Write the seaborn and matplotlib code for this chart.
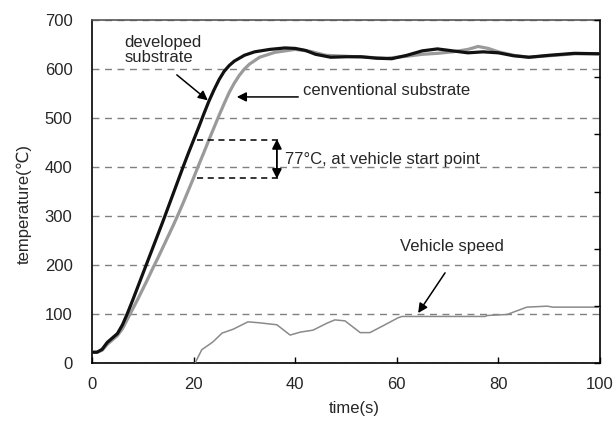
import matplotlib
matplotlib.use("Agg")
import matplotlib.pyplot as plt
import seaborn as sns
import pandas as pd
import numpy as np

# ---- data ----
dev_time = [0, 1, 2, 3, 4, 5, 6, 7, 8, 9, 10, 11, 12, 13, 14, 15, 16, 17, 18, 19, 20,
            21, 22, 23, 24, 25, 26, 27, 28, 30, 32, 35, 38, 40, 42, 44, 47, 50, 53, 56,
            59, 62, 65, 68, 71, 74, 77, 80, 83, 86, 90, 95, 100]
dev_temp = [22, 22, 28, 42, 51, 60, 78, 102, 128, 155, 182, 209, 236, 263, 290, 318, 346,
            374, 402, 429, 455, 481, 508, 534, 557, 578, 595, 607, 616, 628, 635, 640, 643,
            642, 638, 630, 624, 625, 625, 622, 621, 628, 637, 641, 637, 633, 635, 633, 627,
            624, 628, 632, 631]

conv_time = [0, 1, 2, 3, 4, 5, 6, 7, 8, 9, 10, 11, 12, 13, 14, 15, 16, 17, 18, 19, 20,
             21, 22, 23, 24, 25, 26, 27, 28, 29, 30, 31, 33, 36, 40, 43, 46, 50, 54, 58,
             62, 65, 68, 71, 74, 76, 78, 80, 83, 86, 90, 95, 100]
conv_temp = [22, 22, 26, 38, 47, 56, 70, 90, 110, 130, 151, 172, 194, 215, 237, 259, 281,
             304, 328, 353, 378, 404, 429, 455, 480, 505, 529, 552, 571, 587, 600, 610, 624,
             634, 640, 636, 628, 626, 624, 622, 626, 630, 632, 635, 640, 646, 642, 635, 628,
             624, 627, 631, 631]

speed_time = [20.3, 21.6, 23.8, 25.6, 27.8, 30.7, 33.0, 36.4, 39.0, 41.0, 43.5, 46.2, 47.8,
              49.8, 52.8, 54.7, 57.3, 60.2, 61.0, 77.4, 77.8, 81.7, 85.6, 89.6, 90.7, 100]
speed_val = [0, 27, 43, 61, 69, 84, 82, 78, 57, 63, 67, 81, 88, 86, 62, 62, 76, 92, 95, 95,
             97, 99, 114, 116, 114, 114]

x_ticks = [0, 20, 40, 60, 80, 100]
y_ticks = [0, 100, 200, 300, 400, 500, 600, 700]

sns.set_theme(style="white")
plt.rcParams["font.family"] = ["Liberation Sans", "DejaVu Sans"]
FS = 12

fig = plt.figure(figsize=(6.16, 4.21), dpi=100)
ax = fig.add_axes([92 / 616, 58 / 421, 508 / 616, 343 / 421])

dev = pd.DataFrame({"t": dev_time, "T": dev_temp})
conv = pd.DataFrame({"t": conv_time, "T": conv_temp})
spd = pd.DataFrame({"t": speed_time, "v": speed_val})

sns.lineplot(data=spd, x="t", y="v", ax=ax, color="#8a8a8a", lw=1.1, zorder=3)
sns.lineplot(data=conv, x="t", y="T", ax=ax, color="#9a9a9a", lw=2.3, zorder=4)
sns.lineplot(data=dev, x="t", y="T", ax=ax, color="#111111", lw=2.3, zorder=5)

ax.set_xlim(0, 100)
ax.set_ylim(0, 700)
ax.set_xticks(x_ticks)
ax.set_yticks(y_ticks)
ax.tick_params(axis="x", direction="in", length=4, width=1, color="black",
               labelsize=FS, pad=10, top=False, bottom=True)
ax.tick_params(axis="y", length=0, labelsize=FS, pad=14)
ax.yaxis.grid(True, linestyle=(0, (5, 4)), color="#808080", lw=1.0)
ax.xaxis.grid(False)
for s in ax.spines.values():
    s.set_color("black")
    s.set_linewidth(1.2)
ax.spines["top"].set_color("#555555")

ax.set_xlabel("time(s)", fontsize=FS)
ax.set_ylabel("temperature(℃)", fontsize=FS)
ax.xaxis.set_label_coords(0.516, -0.11)
ax.yaxis.set_label_coords(-0.118, 0.465)

# secondary axis ticks on the right
ax2 = ax.twinx()
ax2.set_ylim(0, 120)
ax2.set_yticks(np.arange(0, 121, 20))
ax2.tick_params(axis="y", direction="in", length=4, width=1, color="black",
                labelright=False, right=True)
ax2.grid(False)
for s in ax2.spines.values():
    s.set_visible(False)

# annotations
arrow = dict(arrowstyle="-|>", color="black", lw=1.1, mutation_scale=14,
             shrinkA=0, shrinkB=0)
ax.text(6.4, 670, "developed\nsubstrate", fontsize=FS, ha="left", va="top",
        linespacing=1.0)
ax.annotate("", xy=(22.8, 536), xytext=(16.7, 588), arrowprops=arrow)

ax.text(41.5, 557, "cenventional substrate", fontsize=FS, ha="left", va="center")
ax.annotate("", xy=(28.5, 543), xytext=(40.6, 543), arrowprops=arrow)

ax.plot([20.6, 36.6], [455, 455], color="black", lw=1.1, ls=(0, (4, 3)), zorder=6)
ax.plot([20.6, 36.6], [378, 378], color="black", lw=1.1, ls=(0, (4, 3)), zorder=6)
ax.annotate("", xy=(36.4, 457), xytext=(36.4, 376),
            arrowprops=dict(arrowstyle="<|-|>", color="black", lw=1.3,
                            mutation_scale=14, shrinkA=0, shrinkB=0))
ax.text(38.0, 416, "77°C, at vehicle start point", fontsize=FS, ha="left",
        va="center")

ax.text(70.9, 237, "Vehicle speed", fontsize=FS, ha="center", va="center")
ax.annotate("", xy=(64.2, 102), xytext=(69.5, 184), arrowprops=arrow)

fig.savefig("out.png", dpi=100)
